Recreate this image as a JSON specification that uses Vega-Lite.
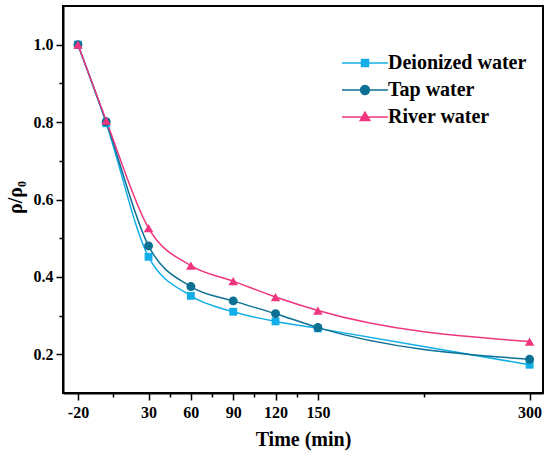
{
  "$schema": "https://vega.github.io/schema/vega-lite/v6.json",
  "width": 480,
  "height": 387,
  "autosize": "none",
  "padding": {"left": 63, "top": 6, "right": 7, "bottom": 66},
  "background": "white",
  "data": {
    "values": [
      {"t": -20, "v": 1.0, "series": "Deionized water"},
      {"t": 0, "v": 0.797, "series": "Deionized water"},
      {"t": 30, "v": 0.452, "series": "Deionized water"},
      {"t": 60, "v": 0.351, "series": "Deionized water"},
      {"t": 90, "v": 0.31, "series": "Deionized water"},
      {"t": 120, "v": 0.285, "series": "Deionized water"},
      {"t": 150, "v": 0.267, "series": "Deionized water"},
      {"t": 300, "v": 0.173, "series": "Deionized water"},
      {"t": -20, "v": 1.0, "series": "Tap water"},
      {"t": 0, "v": 0.801, "series": "Tap water"},
      {"t": 30, "v": 0.48, "series": "Tap water"},
      {"t": 60, "v": 0.375, "series": "Tap water"},
      {"t": 90, "v": 0.338, "series": "Tap water"},
      {"t": 120, "v": 0.305, "series": "Tap water"},
      {"t": 150, "v": 0.269, "series": "Tap water"},
      {"t": 300, "v": 0.187, "series": "Tap water"},
      {"t": -20, "v": 1.0, "series": "River water"},
      {"t": 0, "v": 0.804, "series": "River water"},
      {"t": 30, "v": 0.526, "series": "River water"},
      {"t": 60, "v": 0.429, "series": "River water"},
      {"t": 90, "v": 0.389, "series": "River water"},
      {"t": 120, "v": 0.348, "series": "River water"},
      {"t": 150, "v": 0.313, "series": "River water"},
      {"t": 300, "v": 0.233, "series": "River water"}
    ]
  },
  "encoding": {
    "x": {
      "field": "t",
      "type": "quantitative",
      "scale": {"domain": [-30.6, 309.5], "nice": false, "zero": false},
      "axis": {
        "title": "Time (min)",
        "values": [-20, 5, 30, 45, 60, 75, 90, 105, 120, 135, 150, 225, 300],
        "labelExpr": "indexof([5, 45, 75, 105, 135, 225], datum.value) >= 0 ? '' : '' + datum.value",
        "tickSize": {"condition": {"test": "indexof([5, 45, 75, 105, 135, 225], datum.value) >= 0", "value": 4}, "value": 7},
        "labelPadding": 4,
        "titleY": 36
      }
    },
    "y": {
      "field": "v",
      "type": "quantitative",
      "scale": {"domain": [0.1, 1.1], "nice": false, "zero": false},
      "axis": {
        "title": "ρ/ρ₀",
        "values": [0.2, 0.3, 0.4, 0.5, 0.6, 0.7, 0.8, 0.9, 1.0],
        "format": ".1f",
        "labelExpr": "round(datum.value * 10) % 2 == 1 ? '' : datum.label",
        "tickSize": {"condition": {"test": "round(datum.value * 10) % 2 == 1", "value": 4}, "value": 7},
        "labelPadding": 3,
        "titleX": -38,
        "titleY": 191
      }
    }
  },
  "layer": [
    {
      "mark": {"type": "line", "strokeWidth": 1.5, "interpolate": "monotone"},
      "encoding": {
        "detail": {"field": "series", "type": "nominal"},
        "color": {
          "condition": [
            {"test": "datum.series === 'Tap water'", "value": "#0c6f94"},
            {"test": "datum.series === 'River water'", "value": "#f0357f"}
          ],
          "value": "#12aee8"
        }
      }
    },
    {
      "mark": {"type": "point", "filled": true, "opacity": 1},
      "encoding": {
        "color": {
          "condition": [
            {"test": "datum.series === 'Tap water'", "value": "#0c6f94"},
            {"test": "datum.series === 'River water'", "value": "#f0357f"}
          ],
          "value": "#12aee8"
        },
        "shape": {
          "condition": [
            {"test": "datum.series === 'Tap water'", "value": "circle"},
            {"test": "datum.series === 'River water'", "value": "triangle-up"}
          ],
          "value": "square"
        },
        "size": {
          "condition": [
            {"test": "datum.series === 'Tap water'", "value": 80},
            {"test": "datum.series === 'River water'", "value": 90}
          ],
          "value": 62
        }
      }
    },
    {
      "transform": [{"filter": "false"}],
      "mark": {"type": "point", "filled": true, "opacity": 1, "strokeWidth": 1.5},
      "encoding": {
        "fill": {
          "field": "series",
          "type": "nominal",
          "scale": {"domain": ["Deionized water", "Tap water", "River water"], "range": ["#12aee8", "#0c6f94", "#f0357f"]},
          "legend": {
            "title": null,
            "orient": "none",
            "legendX": 292,
            "legendY": 47,
            "padding": 0,
            "symbolSize": 64,
            "symbolStrokeWidth": 1.5,
            "labelOffset": 13,
            "labelFont": "Liberation Serif",
            "labelFontWeight": "bold",
            "labelFontSize": 20,
            "labelColor": "black",
            "labelLimit": 300,
            "rowPadding": 7
          }
        },
        "stroke": {
          "field": "series",
          "type": "nominal",
          "scale": {"domain": ["Deionized water", "Tap water", "River water"], "range": ["#12aee8", "#0c6f94", "#f0357f"]}
        },
        "shape": {
          "field": "series",
          "type": "nominal",
          "scale": {
            "domain": ["Deionized water", "Tap water", "River water"],
            "range": [
              "M-5.75,0H5.75M-0.875,-0.875H0.875V0.875H-0.875Z",
              "M-5.75,0H5.75M-1.1,0A1.1,1.1 0 1,0 1.1,0A1.1,1.1 0 1,0 -1.1,0Z",
              "M-5.75,0H5.75M0,-1.2L1.2,0.85H-1.2Z"
            ]
          }
        }
      }
    }
  ],
  "config": {
    "view": {"stroke": "black", "strokeWidth": 2},
    "axis": {
      "grid": false,
      "domainColor": "black",
      "domainWidth": 2,
      "tickColor": "black",
      "tickWidth": 1.5,
      "labelColor": "black",
      "labelFont": "Liberation Serif",
      "labelFontWeight": "bold",
      "labelFontSize": 16,
      "labelOverlap": false,
      "labelFlush": false,
      "titleColor": "black",
      "titleFont": "Liberation Serif",
      "titleFontWeight": "bold",
      "titleFontSize": 20
    }
  }
}
